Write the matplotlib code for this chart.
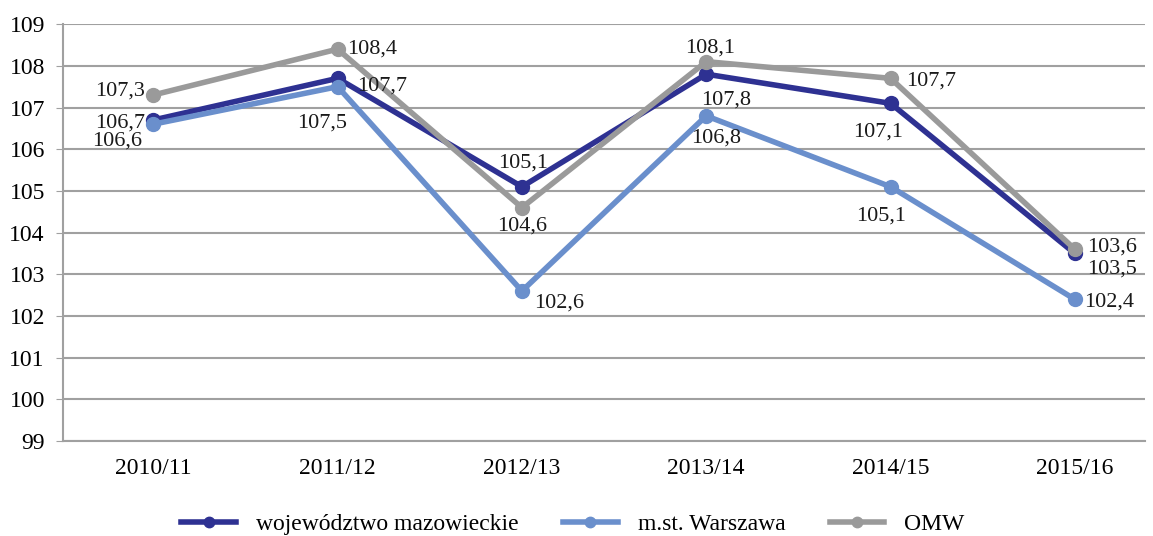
import numpy as np
import matplotlib.pyplot as plt

plt.rcParams['font.family'] = ['Liberation Serif', 'DejaVu Serif']

# data
categories = ["2010/11", "2011/12", "2012/13", "2013/14", "2014/15", "2015/16"]
mazowieckie = [106.7, 107.7, 105.1, 107.8, 107.1, 103.5]
warszawa = [106.6, 107.5, 102.6, 106.8, 105.1, 102.4]
omw = [107.3, 108.4, 104.6, 108.1, 107.7, 103.6]

series_names = ["województwo mazowieckie", "m.st. Warszawa", "OMW"]
colors = ["#2E3192", "#6A8FCC", "#9A9A9A"]

# label placement (offset in points, horizontal alignment)
offsets = [
    [(-6, 0, 'right'), (14, -3.5, 'left'), (1, 19, 'center'), (14, -16.5, 'center'), (-9, -19, 'center'), (9, -9, 'left')],
    [(-8, -10, 'right'), (-11, -24, 'center'), (8.5, -6.5, 'left'), (7, -14, 'center'), (-7, -19, 'center'), (7, 0, 'left')],
    [(-6, 5, 'right'), (7, 2, 'left'), (0, -11.5, 'center'), (3, 12, 'center'), (11.5, 0, 'left'), (9, 3.5, 'left')],
]


def fmt(v):
    return f"{v:.1f}".replace(".", ",")


def main():
    fig = plt.figure(figsize=(11.53, 5.36), dpi=100)
    ax = fig.add_axes([0.0546, 0.177, 0.9384, 0.778])
    x = np.arange(len(categories))

    for vals, name, col in zip([mazowieckie, warszawa, omw], series_names, colors):
        ax.plot(x, vals, color=col, lw=4, marker='o', ms=10, label=name, zorder=3)

    # va='center' sits a bit high because of the comma descent, so nudge down
    for vals, offs in zip([mazowieckie, warszawa, omw], offsets):
        for xi, v, (dx, dy, ha) in zip(x, vals, offs):
            ax.annotate(fmt(v), (xi, v), xytext=(dx, dy - 2), textcoords='offset points',
                        ha=ha, va='center', fontsize=16, color='#1a1a1a', zorder=4)

    ax.set_ylim(99, 109)
    ax.set_yticks(np.arange(99, 110, 1))
    ax.set_xlim(-0.49, 5.38)
    ax.set_xticks(x)
    ax.set_xticklabels(categories)
    ax.grid(axis='y', color='#A0A0A0', lw=1.5)
    ax.set_axisbelow(True)
    for s in ['top', 'right']:
        ax.spines[s].set_visible(False)
    ax.spines['left'].set_color('#A0A0A0')
    ax.spines['left'].set_linewidth(1.5)
    ax.spines['bottom'].set_color('#A0A0A0')
    ax.spines['bottom'].set_linewidth(1.5)
    ax.tick_params(axis='y', length=5, color='#A0A0A0', labelsize=17, pad=8)
    ax.tick_params(axis='x', length=0, labelsize=17, pad=12)

    fig.legend(loc='center', bbox_to_anchor=(0.497, 0.022), ncol=3, frameon=False,
               fontsize=17, handlelength=2.3, handletextpad=0.85, columnspacing=1.9,
               markerscale=0.75)

    fig.savefig("out.png", dpi=100)


if __name__ == "__main__":
    main()
